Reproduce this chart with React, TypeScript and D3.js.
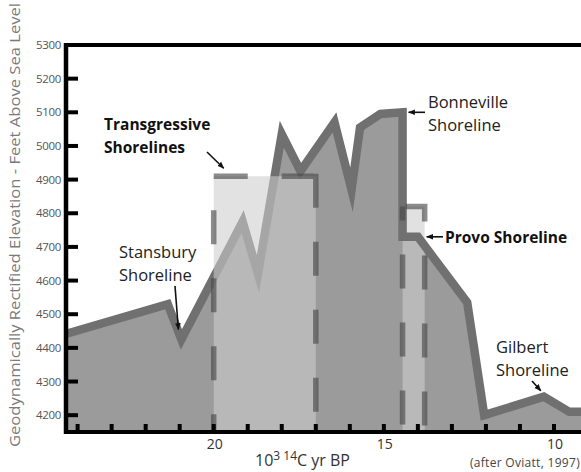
import React, { useEffect, useRef } from "react";
import * as d3 from "d3";

// lake level curve: age (10^3 14C yr BP) and elevation (ft)
const ageKyr = [24.4, 21.35, 20.95, 19.15, 18.7, 18.0, 17.45, 16.45, 15.95, 15.7, 15.1, 14.45, 14.45, 14.0, 12.55, 12.05, 10.3, 9.55, 9.0];
const elevFt = [4440, 4530, 4425, 4775, 4620, 5035, 4925, 5070, 4870, 5055, 5095, 5100, 4730, 4730, 4535, 4200, 4255, 4210, 4210];

// dashed boxes
const transgressiveAge = [20, 17];
const transgressiveTop = 4910;
const provoAge = [14.45, 13.8];
const provoTop = 4820;

const xTicks = [24, 23, 22, 21, 20, 19, 18, 17, 16, 15, 14, 13, 12, 11, 10];
const xTickLabels = [20, 15, 10];
const yTicks = [4200, 4300, 4400, 4500, 4600, 4700, 4800, 4900, 5000, 5100, 5200];
const yTickLabels = [4200, 4300, 4400, 4500, 4600, 4700, 4800, 4900, 5000, 5100, 5200, 5300];

const width = 581;
const height = 472;
const font = "'Open Sans', Lato, sans-serif";

export default function App() {
  const ref = useRef<SVGSVGElement>(null);

  useEffect(() => {
    const svg = d3.select(ref.current);
    svg.selectAll("*").remove();

    const x = d3.scaleLinear().domain([24.4, 9.0]).range([64, 588]);
    const y = d3.scaleLinear().domain([4150, 5300]).range([432, 45]);
    const base = y.domain()[0];

    const pts: [number, number][] = ageKyr.map((a, i) => [a, elevFt[i]]);

    const defs = svg.append("defs");
    defs.append("clipPath").attr("id", "plot")
      .append("rect").attr("x", 66).attr("y", 40).attr("width", width - 66).attr("height", 392);
    defs.append("marker").attr("id", "head").attr("viewBox", "0 0 10 10")
      .attr("refX", 9).attr("refY", 5).attr("markerWidth", 7).attr("markerHeight", 7)
      .attr("markerUnits", "userSpaceOnUse").attr("orient", "auto")
      .append("path").attr("d", "M0,1 L10,5 L0,9 Z").attr("fill", "#111");

    const g = svg.append("g").attr("clip-path", "url(#plot)");

    g.append("path").datum(pts)
      .attr("d", d3.area<[number, number]>().x((d) => x(d[0])).y0(y(base)).y1((d) => y(d[1])))
      .attr("fill", "#9b9b9b");

    // Provo overlay (under the line)
    g.append("rect")
      .attr("x", x(provoAge[0])).attr("y", y(provoTop))
      .attr("width", x(provoAge[1]) - x(provoAge[0])).attr("height", y(base) - y(provoTop))
      .attr("fill", "#cdcdcd").attr("opacity", 0.6);

    g.append("path").datum(pts)
      .attr("d", d3.line<[number, number]>().x((d) => x(d[0])).y((d) => y(d[1])))
      .attr("fill", "none").attr("stroke", "#707070").attr("stroke-width", 8.5)
      .attr("stroke-linejoin", "miter").attr("stroke-miterlimit", 10);

    // transgressive overlay (over the line)
    g.append("rect")
      .attr("x", x(transgressiveAge[0])).attr("y", y(transgressiveTop))
      .attr("width", x(transgressiveAge[1]) - x(transgressiveAge[0])).attr("height", y(base) - y(transgressiveTop))
      .attr("fill", "#cdcdcd").attr("opacity", 0.58);

    const dash = (d: string, offset: number) =>
      g.append("path").attr("d", d).attr("fill", "none")
        .attr("stroke", "#494949").attr("stroke-opacity", 0.64).attr("stroke-width", 5.5)
        .attr("stroke-dasharray", "34 34").attr("stroke-dashoffset", offset);

    const tx0 = x(transgressiveAge[0]), tx1 = x(transgressiveAge[1]), tTop = y(transgressiveTop);
    dash(`M${tx0},${tTop}V${y(base)}`, 34);
    dash(`M${tx0},${tTop}H${tx1 - 2.5}`, 0);
    dash(`M${tx1},${tTop - 2.5}V${y(base)}`, 0);

    const px0 = x(provoAge[0]), px1 = x(provoAge[1]), pTop = y(provoTop);
    dash(`M${px0},${pTop}V${y(base)}`, 20);
    dash(`M${px0 + 3},${pTop}H${px1}V${y(base)}`, 0);

    // frame and axes
    svg.append("line").attr("x1", 64).attr("x2", width).attr("y1", 45).attr("y2", 45)
      .attr("stroke", "#000").attr("stroke-width", 4);
    svg.append("line").attr("x1", 66).attr("x2", 66).attr("y1", 43).attr("y2", 434)
      .attr("stroke", "#000").attr("stroke-width", 4.5);
    svg.append("line").attr("x1", 64).attr("x2", width).attr("y1", 432).attr("y2", 432)
      .attr("stroke", "#000").attr("stroke-width", 4);

    svg.append("g").selectAll("line").data(yTicks).join("line")
      .attr("x1", 66).attr("x2", 78).attr("y1", (d) => y(d)).attr("y2", (d) => y(d))
      .attr("stroke", "#000").attr("stroke-width", 4);
    svg.append("g").selectAll("text").data(yTickLabels).join("text")
      .attr("x", 61).attr("y", (d) => y(d) + 4).attr("text-anchor", "end")
      .attr("font-family", font).attr("font-size", 11.5).attr("fill", "#555")
      .attr("letter-spacing", -0.3)
      .text((d) => d);

    svg.append("g").selectAll("line").data(xTicks).join("line")
      .attr("x1", (d) => x(d)).attr("x2", (d) => x(d)).attr("y1", 432).attr("y2", 424)
      .attr("stroke", "#000").attr("stroke-width", 4);
    svg.append("g").selectAll("text").data(xTickLabels).join("text")
      .attr("x", (d) => x(d) + 1).attr("y", 449).attr("text-anchor", "middle")
      .attr("font-family", font).attr("font-size", 14).attr("fill", "#333")
      .text((d) => d);

    const xt = svg.append("text").attr("x", 255).attr("y", 466)
      .attr("font-family", font).attr("font-size", 16).attr("fill", "#333");
    xt.append("tspan").text("10");
    xt.append("tspan").attr("dy", -6).attr("font-size", 12).text("3 14");
    xt.append("tspan").attr("dy", 6).text("C yr BP");

    svg.append("text").attr("x", 580).attr("y", 467).attr("text-anchor", "end")
      .attr("font-family", font).attr("font-size", 12).attr("fill", "#444")
      .attr("letter-spacing", 0.3)
      .text("(after Oviatt, 1997)");

    svg.append("text").attr("transform", "translate(20,447) rotate(-90)")
      .attr("font-family", font).attr("font-size", 15).attr("fill", "#7a7a7a")
      .attr("textLength", 444).attr("lengthAdjust", "spacingAndGlyphs")
      .text("Geodynamically Rectified Elevation - Feet Above Sea Level");

    // annotations
    const label = (lines: string[], lx: number, ly: number, bold: boolean) => {
      const t = svg.append("text").attr("font-family", font)
        .attr("font-size", bold ? 15.5 : 16.5)
        .attr("font-weight", bold ? 700 : 400).attr("fill", bold ? "#111" : "#222");
      lines.forEach((s, i) => t.append("tspan").attr("x", lx).attr("y", ly + i * 22.5).text(s));
    };
    const arrow = (x1: number, y1: number, x2: number, y2: number) =>
      svg.append("line").attr("x1", x1).attr("y1", y1).attr("x2", x2).attr("y2", y2)
        .attr("stroke", "#111").attr("stroke-width", 1.6).attr("marker-end", "url(#head)");

    label(["Transgressive", "Shorelines"], 104, 130, true);
    arrow(207, 152, tx0 + 10, tTop - 8);

    label(["Stansbury", "Shoreline"], 119, 258, false);
    arrow(175, 286, x(20.95) - 3, y(4425) - 10);

    label(["Bonneville", "Shoreline"], 428, 108, false);
    arrow(425, y(5100), x(14.45) + 6, y(5100));

    label(["Provo Shoreline"], 445, 243, true);
    arrow(443, y(4730), px1 + 2, y(4730));

    label(["Gilbert", "Shoreline"], 496, 353, false);
    arrow(532, 381, x(10.3) - 3, y(4255) - 6);
  }, []);

  return (
    <svg
      ref={ref}
      width={width}
      height={height}
      style={{ position: "absolute", left: 0, top: 0, background: "#fff" }}
    />
  );
}
